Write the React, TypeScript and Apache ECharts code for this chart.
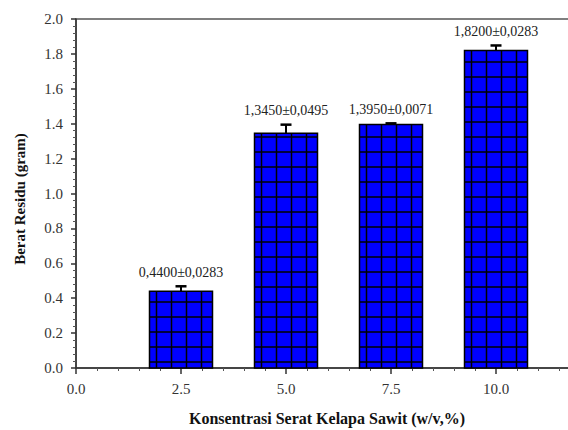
import React, { useEffect, useRef } from "react";
import * as echarts from "echarts";

const concentrations = [2.5, 5.0, 7.5, 10.0];
const residueMeans = [0.44, 1.345, 1.395, 1.82];
const residueErrors = [0.0283, 0.0495, 0.0071, 0.0283];
const xTitle = "Konsentrasi Serat Kelapa Sawit (w/v,%)";
const yTitle = "Berat Residu (gram)";

const SERIF = "Liberation Serif";
const fmt = (v: number) => v.toFixed(4).replace(".", ",");

export default function App() {
  const ref = useRef<HTMLDivElement>(null);
  useEffect(() => {
    if (!ref.current) return;
    const chart = echarts.init(ref.current, undefined, { renderer: "svg" });
    const data = concentrations.map((c, i) => [c, residueMeans[i], residueErrors[i]]);
    const halfWidth = 0.75;
    chart.setOption({
      animation: false,
      backgroundColor: "#ffffff",
      textStyle: { fontFamily: SERIF },
      grid: {
        left: 76,
        top: 19,
        width: 525,
        height: 349,
        outerBoundsMode: "none",
        containLabel: false,
        show: true,
        borderColor: "#555",
        borderWidth: 1.5,
        backgroundColor: "transparent",
      },
      xAxis: {
        type: "value",
        min: 0,
        max: 12.5,
        interval: 2.5,
        axisLine: { show: true, lineStyle: { color: "#333", width: 1.5 } },
        axisTick: { show: true, inside: false, length: 6, lineStyle: { color: "#333", width: 1.5 } },
        minorTick: { show: true, splitNumber: 5, length: 3, lineStyle: { color: "#555", width: 1 } },
        splitLine: { show: false },
        axisLabel: {
          formatter: (v: number) => v.toFixed(1),
          showMaxLabel: false,
          fontFamily: SERIF,
          fontSize: 15,
          color: "#333",
          margin: 13,
        },
      },
      yAxis: {
        type: "value",
        min: 0,
        max: 2,
        interval: 0.2,
        axisLine: { show: true, lineStyle: { color: "#333", width: 1.5 } },
        axisTick: { show: true, inside: false, length: 5, lineStyle: { color: "#333", width: 1.5 } },
        minorTick: { show: true, splitNumber: 5, length: 3, lineStyle: { color: "#555", width: 1 } },
        splitLine: { show: false },
        axisLabel: {
          formatter: (v: number) => v.toFixed(1),
          fontFamily: SERIF,
          fontSize: 15,
          color: "#333",
          margin: 13,
        },
      },
      graphic: [
        {
          type: "text",
          x: 20,
          y: 199,
          rotation: Math.PI / 2,
          style: {
            text: yTitle,
            fontFamily: SERIF,
            fontWeight: "bold",
            fontSize: 15,
            fill: "#111",
            align: "center",
            verticalAlign: "middle",
          },
        },
        {
          type: "text",
          x: 327,
          y: 418,
          style: {
            text: xTitle,
            fontFamily: SERIF,
            fontWeight: "bold",
            fontSize: 16,
            fill: "#111",
            align: "center",
            verticalAlign: "middle",
          },
        },
      ],
      series: [
        {
          type: "custom",
          clip: false,
          encode: { x: 0, y: 1 },
          data,
          renderItem: (params: any, api: any) => {
            const x = api.value(0);
            const v = api.value(1);
            const e = api.value(2);
            const tl = api.coord([x - halfWidth, v]);
            const br = api.coord([x + halfWidth, 0]);
            const c = api.coord([x, v]);
            const et = api.coord([x, v + e]);
            const left = tl[0];
            const top = tl[1];
            const right = br[0];
            const bottom = br[1];
            const children: any[] = [];
            children.push({
              type: "rect",
              shape: { x: left, y: top, width: right - left, height: bottom - top },
              style: { fill: "#0000FF", stroke: "none" },
            });
            for (let y = bottom - 6; y > top + 1; y -= 15) {
              children.push({
                type: "line",
                shape: { x1: left, y1: y, x2: right, y2: y },
                style: { stroke: "#000", lineWidth: 1.5 },
              });
            }
            for (let xx = left + 7; xx < right - 1; xx += 15) {
              children.push({
                type: "line",
                shape: { x1: xx, y1: top, x2: xx, y2: bottom },
                style: { stroke: "#000", lineWidth: 1.5 },
              });
            }
            children.push({
              type: "rect",
              shape: { x: left, y: top, width: right - left, height: bottom - top },
              style: { fill: "none", stroke: "#000", lineWidth: 1.5 },
            });
            children.push({
              type: "line",
              shape: { x1: c[0], y1: c[1], x2: et[0], y2: et[1] },
              style: { stroke: "#000", lineWidth: 2 },
            });
            children.push({
              type: "line",
              shape: { x1: c[0] - 5.5, y1: et[1], x2: c[0] + 5.5, y2: et[1] },
              style: { stroke: "#000", lineWidth: 2.5 },
            });
            children.push({
              type: "text",
              style: {
                text: fmt(v) + "±" + fmt(e),
                x: c[0],
                y: et[1] - 7,
                align: "center",
                verticalAlign: "bottom",
                fontFamily: SERIF,
                fontSize: 14,
                fill: "#222",
              },
            });
            return { type: "group", children };
          },
        },
      ],
    });
    return () => chart.dispose();
  }, []);
  return <div ref={ref} style={{ width: 568, height: 430, position: "absolute", left: 0, top: 0 }} />;
}
